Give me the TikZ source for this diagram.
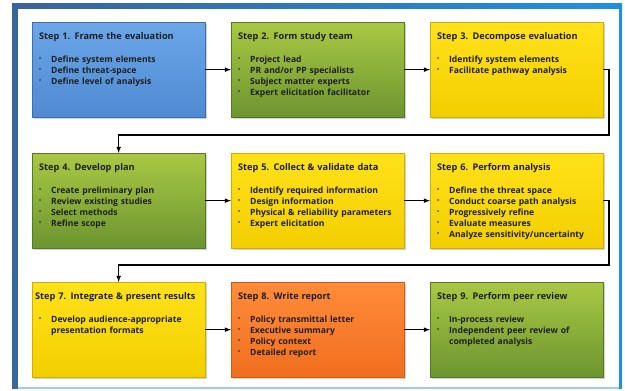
\documentclass[tikz,border=0pt]{standalone}
\usepackage{fontspec}
\setmainfont{Open Sans}
\newfontfamily\stepfont{Open Sans}[WordSpace=1.5]
\usepackage{amssymb}
\usepackage{amsmath}
\usetikzlibrary{shadows}

\definecolor{frameblue}{HTML}{3A6598}
\definecolor{framelight}{HTML}{1E90E2}
\definecolor{blueTop}{HTML}{6AA6E8}
\definecolor{blueBot}{HTML}{4F8AD2}
\definecolor{greenTop}{HTML}{A9C843}
\definecolor{greenBot}{HTML}{6C9530}
\definecolor{yellowTop}{HTML}{FFE21A}
\definecolor{yellowBot}{HTML}{F2CE00}
\definecolor{orangeTop}{HTML}{FF8C3A}
\definecolor{orangeBot}{HTML}{F06E1E}

\newcommand{\bl}{\makebox[12pt][l]{\raisebox{1.5pt}{\fontsize{5.5}{5.5}\selectfont\textbullet}}}
\newcommand{\bc}{\hspace*{12pt}}
\newcommand{\ttl}[1]{{\stepfont\bfseries\fontsize{9.2}{11}\selectfont #1}\\[12pt]}

\begin{document}
\begin{tikzpicture}[x=1pt, y=-1pt,
  stepbox/.style={anchor=north west, text width=159pt, inner xsep=7pt, inner ysep=10pt,
    text height=7pt, text depth=68pt, align=left, text=black!88,
    font=\fontsize{8.6}{11}\selectfont\bfseries,
    drop shadow={shadow xshift=1.5pt, shadow yshift=-1.5pt, opacity=0.35}},
  bluebox/.style={stepbox, top color=blueTop, bottom color=blueBot, draw=blueBot!80!black, line width=0.3pt},
  greenbox/.style={stepbox, top color=greenTop, bottom color=greenBot, draw=greenBot!80!black, line width=0.3pt},
  yellowbox/.style={stepbox, top color=yellowTop, bottom color=yellowBot, draw=yellowBot!85!black, line width=0.3pt},
  orangebox/.style={stepbox, top color=orangeTop, bottom color=orangeBot, draw=orangeBot!85!black, line width=0.3pt},
  link/.style={->, >=latex, line width=1.1pt}]

\useasboundingbox (0,0) rectangle (625,391);
\fill[white] (0,0) rectangle (625,391);
\fill[framelight!45] (12,3) rectangle (622,389);
\fill[framelight] (619,3) rectangle (622,389);
\fill[left color=frameblue, right color=framelight] (12,3) rectangle (622,9);
\fill[frameblue] (12,3) rectangle (18,389);
\fill[white] (18,9) rectangle (619,387);

\node[bluebox] (s1) at (32, 22) {\ttl{Step 1. Frame the evaluation}
\bl Define system elements\\
\bl Define threat-space\\
\bl Define level of analysis};
\node[greenbox] (s2) at (231, 22) {\ttl{Step 2. Form study team}
\bl Project lead\\
\bl PR and/or PP specialists\\
\bl Subject matter experts\\
\bl Expert elicitation facilitator};
\node[yellowbox] (s3) at (430, 22) {\ttl{Step 3. Decompose evaluation}
\bl Identify system elements\\
\bl Facilitate pathway analysis};

\node[greenbox] (s4) at (32, 153) {\ttl{Step 4. Develop plan}
\bl Create preliminary plan\\
\bl Review existing studies\\
\bl Select methods\\
\bl Refine scope};
\node[yellowbox] (s5) at (231, 153) {\ttl{Step 5. Collect \& validate data}
\bl Identify required information\\
\bl Design information\\
\bl Physical \& reliability parameters\\
\bl Expert elicitation};
\node[yellowbox] (s6) at (430, 153) {\ttl{Step 6. Perform analysis}
\bl Define the threat space\\
\bl Conduct coarse path analysis\\
\bl Progressively refine\\
\bl Evaluate measures\\
\bl Analyze sensitivity/uncertainty};

\node[yellowbox] (s7) at (32, 282) {\ttl{\hspace*{-4pt}Step 7. Integrate \& present results}
\bl Develop audience-appropriate\\
\bc presentation formats};
\node[orangebox] (s8) at (231, 282) {\ttl{Step 8. Write report}
\bl Policy transmittal letter\\
\bl Executive summary\\
\bl Policy context\\
\bl Detailed report};
\node[greenbox] (s9) at (430, 282) {\ttl{Step 9. Perform peer review}
\bl In-process review\\
\bl Independent peer review of\\
\bc completed analysis};

\coordinate (r1) at (609, 135);
\coordinate (r2) at (609, 265);

\draw[link] (s1) to (s2);
\draw[link] (s2) to (s3);
\draw[link] (s3) -| (r1) -| (s4);
\draw[link] (s4) to (s5);
\draw[link] (s5) to (s6);
\draw[link] (s6) -| (r2) -| (s7);
\draw[link] (s7) to (s8);
\draw[link] (s8) to (s9);

\end{tikzpicture}
\end{document}
